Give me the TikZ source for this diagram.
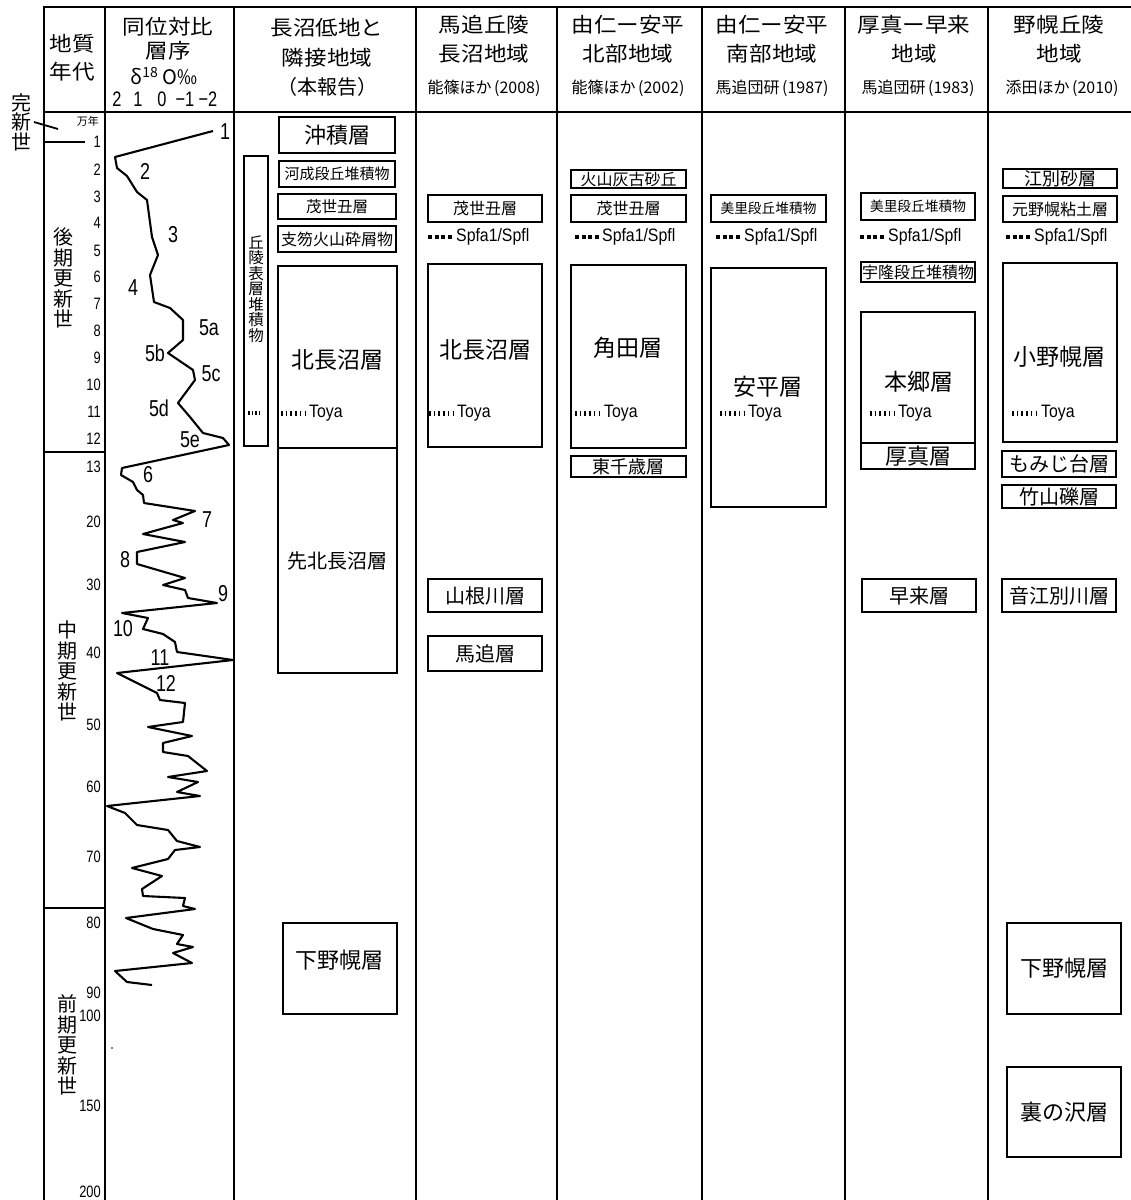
\documentclass[tikz,border=0pt]{standalone}
\usepackage{fontspec}
\setmainfont{Noto Sans CJK JP}
\newfontfamily\cjkw[FakeStretch=1.1]{Noto Sans CJK JP}
\newfontfamily\narA[FakeStretch=0.78]{Liberation Sans}
\newfontfamily\narB[FakeStretch=0.88]{Liberation Sans}
\newcommand\fs[2][]{\fontsize{#2}{#2}\selectfont}
\newcommand\stbox[7]{\node[#6, minimum width={(#4-#2)*1pt}, minimum height={(#5-#3)*1pt}] (#1) at ({(#2+#4)/2},{(#3+#5)/2}) {#7};}
\tikzset{
 frame/.style={line width=2.6pt},
 box/.style={draw, line width=2.6pt, inner sep=0pt, align=center},
 lbox/.style={draw, line width=2pt, inner sep=0pt, align=center},
 curve/.style={line width=2.1pt, line join=round},
 agetick/.style={anchor=east, inner sep=0pt, font=\narA\fs{16.5}},
 clab/.style={inner sep=0pt, font=\narA\fs{23}},
 hd/.style={inner sep=0pt, font=\cjkw\fs{20.5}},
 reftxt/.style={inner sep=0pt, font=\fs{16}},
 spfa/.style={line width=4pt, dash pattern=on 4pt off 2.67pt},
 toya/.style={line width=5pt, dash pattern=on 1.5pt off 3.2pt},
 tagtxt/.style={anchor=west, inner sep=0pt, font=\narB\fs{18}},
 vtext/.style={inner sep=0pt, align=center},
}
\begin{document}
\begin{tikzpicture}[x=1pt,y=-1pt]
\useasboundingbox[fill=white] (0,0) rectangle (1131,1200);
% frame lines
\draw[frame] (44,7) -- (1131,7);
\draw[frame] (44,112) -- (1131,112);
\foreach \xx in {44,105,234,416,557,702,845,988}
  \draw[frame] (\xx,6) -- (\xx,1200);
\draw[frame] (44,142) -- (85,142);
\draw[frame] (44,452) -- (105,452);
\draw[frame] (44,908) -- (105,908);
% headers
\node[hd] (hA1) at (72,44) {地質};
\node[hd] (hA2) at (72,72) {年代};
\node[hd] (hB1) at (168,27) {同位対比};
\node[hd] (hB2) at (168,51) {層序};
\node[inner sep=0pt, font=\fs{20}] (hB3) at (164,76) {δ\textsuperscript{18} O‰};
\node[inner sep=0pt, font=\narA\fs{21}] (s1) at (117,99) {2};
\node[inner sep=0pt, font=\narA\fs{21}] (s2) at (138,99) {1};
\node[inner sep=0pt, font=\narA\fs{21}] (s3) at (162,99) {0};
\node[inner sep=0pt, font=\narA\fs{21}] (s4) at (185,99) {−1};
\node[inner sep=0pt, font=\narA\fs{21}] (s5) at (208,99) {−2};
\node[hd] (hC1) at (327,28) {長沼低地と};
\node[hd] (hC2) at (327,58) {隣接地域};
\node[hd, font=\fs{20}] (hC3) at (327,87) {（本報告）};
\node[hd] (hD1) at (484,25) {馬追丘陵};
\node[hd] (hD2) at (484,54) {長沼地域};
\node[reftxt] (hD3) at (484,88) {能篠ほか\,(2008)};
\node[hd] (hE1) at (628,25) {由仁ー安平};
\node[hd] (hE2) at (628,54) {北部地域};
\node[reftxt] (hE3) at (628,88) {能篠ほか\,(2002)};
\node[hd] (hF1) at (772,25) {由仁ー安平};
\node[hd] (hF2) at (772,54) {南部地域};
\node[reftxt] (hF3) at (772,88) {馬追団研\,(1987)};
\node[hd] (hG1) at (914,25) {厚真ー早来};
\node[hd] (hG2) at (914,54) {地域};
\node[reftxt] (hG3) at (918,88) {馬追団研\,(1983)};
\node[hd] (hH1) at (1059,25) {野幌丘陵};
\node[hd] (hH2) at (1059,54) {地域};
\node[reftxt] (hH3) at (1062,88) {添田ほか\,(2010)};
% epoch labels
\node[vtext, font=\fontsize{20}{19.5}\selectfont] (hol) at (22,122) {完\\新\\世};
\draw[line width=1.8pt] (34,122) -- (58,129);
\node[vtext, font=\fontsize{20}{20.6}\selectfont] (late) at (63,278) {後\\期\\更\\新\\世};
\node[vtext, font=\fontsize{20}{20.6}\selectfont] (mid) at (67,671) {中\\期\\更\\新\\世};
\node[vtext, font=\fontsize{20}{20.6}\selectfont] (early) at (67,1045) {前\\期\\更\\新\\世};
% age ticks
\node[agetick, font=\fs{11}] (man) at (99,121) {万年};
\foreach \t/\yy in {1/142,2/170,3/197,4/223,5/251,6/277,7/304,8/331,9/358,10/385,11/412,12/439,13/467,20/522,30/585,40/653,50/725,60/787,70/857,80/923,90/993,100/1016,150/1106,200/1192}
  \node[agetick] (age\t) at (101,\yy) {\t};
% isotope curve
\draw[curve] plot coordinates {(213,131) (115,157) (117,168) (127,176) (137,192) (147,200) (152,237) (158,255) (150,275) (154,302) (170,308) (183,320) (183,340) (168,353) (193,370) (195,380) (178,403) (190,417) (203,433) (223,438) (229,445) (122,468) (121,475) (133,482) (137,490) (143,495) (144,503) (195,511) (173,520) (183,523) (143,534) (185,542) (137,552) (137,564) (185,578) (163,585) (185,590) (188,598) (217,603) (122,613) (148,618) (143,629) (163,634) (175,642) (177,652) (233,660) (117,673) (157,693) (160,700) (185,703) (183,722) (148,727) (192,736) (163,743) (163,752) (188,756) (207,771) (168,777) (198,782) (177,792) (200,796) (107,806) (125,813) (137,825) (168,830) (177,841) (200,847) (175,850) (168,859) (132,868) (162,876) (142,889) (143,896) (185,898) (183,906) (195,909) (126,918) (153,929) (183,935) (177,944) (193,947) (173,953) (192,963) (115,971) (127,982) (152,985)};
\fill (112,1048) circle (0.8pt);
\foreach \l/\xx/\yy in {1/225/132,2/145/171,3/173/235,4/133/288,5a/209/328,5b/155/353,5c/211/374,5d/159/408,5e/190/440,6/148/475,7/207/520,8/125/560,9/223/594,10/123/629,11/160/658,12/166/683}
  \node[clab] (c\l) at (\xx,\yy) {\l};
% column 3
\stbox{kyu}{244}{156}{268}{446}{box}{}
\node[vtext, font=\fontsize{15.5}{15.5}\selectfont] (kyut) at (256,289) {丘\\陵\\表\\層\\堆\\積\\物};
\draw[line width=4pt, dash pattern=on 1.5pt off 2pt] (kyu.center |- 0,413) ++(-8,0) -- ++(11,0);
\stbox{a1}{279}{117}{395}{153}{box, font=\fs{22}}{沖積層}
\stbox{a2}{279}{161}{395}{187}{box, font=\fs{15}}{河成段丘堆積物}
\stbox{a3}{278}{194}{396}{219}{box, font=\fs{15.5}}{茂世丑層}
\stbox{a4}{278}{226}{396}{252}{box, font=\fs{16}}{支笏火山砕屑物}
\stbox{a5}{278}{266}{397}{448}{box, font=\fs{22}}{}
\node[inner sep=0pt, font=\fs{23}] (a5t) at (337,360) {北長沼層};
\draw[toya] (281,413) -- (306,413);
\node[tagtxt] (a5y) at (309,413) {Toya};
\stbox{a6}{278}{448}{397}{673}{lbox, font=\fs{20}}{先北長沼層}
\stbox{a7}{283}{923}{397}{1014}{lbox, font=\fs{22}}{}
\node[inner sep=0pt, font=\fs{22}] (a7t) at (339,960) {下野幌層};
% column 4
\stbox{b1}{428}{195}{542}{222}{box, font=\fs{16}}{茂世丑層}
\draw[spfa] (428,237) -- (452,237);
\node[tagtxt] (b1s) at (456,237) {Spfa1/Spfl};
\stbox{b2}{428}{264}{542}{447}{box, font=\fs{22}}{}
\node[inner sep=0pt, font=\fs{23}] (b2t) at (485,350) {北長沼層};
\draw[toya] (429,413) -- (454,413);
\node[tagtxt] (b2y) at (457,413) {Toya};
\stbox{b3}{428}{579}{542}{612}{lbox, font=\fs{20}}{山根川層}
\stbox{b4}{428}{636}{542}{671}{lbox, font=\fs{20}}{馬追層}
% column 5
\stbox{e1}{571}{170}{686}{188}{box, font=\fs{16}}{火山灰古砂丘}
\stbox{e2}{571}{195}{686}{222}{box, font=\fs{16}}{茂世丑層}
\draw[spfa] (575,237) -- (599,237);
\node[tagtxt] (e2s) at (602,237) {Spfa1/Spfl};
\stbox{e3}{571}{265}{686}{448}{box, font=\fs{22}}{}
\node[inner sep=0pt, font=\fs{23}] (e3t) at (628,348) {角田層};
\draw[toya] (575,413) -- (600,413);
\node[tagtxt] (e3y) at (604,413) {Toya};
\stbox{e4}{571}{456}{686}{477}{box, font=\fs{18}}{東千歳層}
% column 6
\stbox{f1}{711}{195}{826}{222}{box, font=\fs{13.7}}{美里段丘堆積物}
\draw[spfa] (716,237) -- (740,237);
\node[tagtxt] (f1s) at (744,237) {Spfa1/Spfl};
\stbox{f2}{711}{268}{826}{507}{box, font=\fs{22}}{}
\node[inner sep=0pt, font=\fs{23}] (f2t) at (768,387) {安平層};
\draw[toya] (720,413) -- (745,413);
\node[tagtxt] (f2y) at (748,413) {Toya};
% column 7
\stbox{g1}{861}{193}{975}{220}{box, font=\fs{13.7}}{美里段丘堆積物}
\draw[spfa] (860,237) -- (884,237);
\node[tagtxt] (g1s) at (888,237) {Spfa1/Spfl};
\stbox{g2}{861}{262}{975}{282}{box, font=\fs{16}}{宇隆段丘堆積物}
\stbox{g3}{861}{312}{975}{443}{box, font=\fs{22}}{}
\node[inner sep=0pt, font=\fs{23}] (g3t) at (919,382) {本郷層};
\draw[toya] (870,413) -- (895,413);
\node[tagtxt] (g3y) at (898,413) {Toya};
\stbox{g4}{861}{443}{975}{469}{box, font=\fs{22}}{厚真層}
\stbox{g5}{862}{579}{976}{612}{lbox, font=\fs{20}}{早来層}
% column 8
\stbox{h1}{1003}{169}{1117}{188}{box, font=\fs{18}}{江別砂層}
\stbox{h2}{1003}{196}{1117}{222}{box, font=\fs{16}}{元野幌粘土層}
\draw[spfa] (1006,237) -- (1030,237);
\node[tagtxt] (h2s) at (1034,237) {Spfa1/Spfl};
\stbox{h3}{1003}{263}{1117}{442}{box, font=\fs{22}}{}
\node[inner sep=0pt, font=\fs{23}] (h3t) at (1059,357) {小野幌層};
\draw[toya] (1012,413) -- (1037,413);
\node[tagtxt] (h3y) at (1041,413) {Toya};
\stbox{h4}{1002}{451}{1116}{477}{box, font=\fs{20}}{もみじ台層}
\stbox{h5}{1002}{485}{1116}{508}{box, font=\fs{20}}{竹山礫層}
\stbox{h6}{1002}{579}{1116}{612}{lbox, font=\fs{20}}{音江別川層}
\stbox{h7}{1007}{923}{1121}{1014}{lbox, font=\fs{22}}{下野幌層}
\stbox{h8}{1007}{1067}{1121}{1157}{lbox, font=\fs{22}}{裏の沢層}
\end{tikzpicture}
\end{document}
